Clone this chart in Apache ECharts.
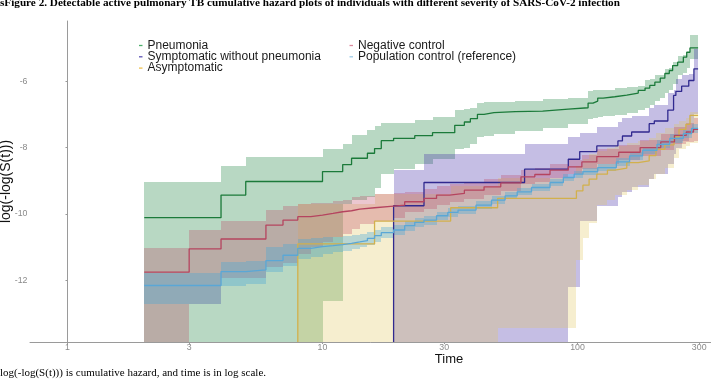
<!DOCTYPE html>
<html>
<head>
<meta charset="utf-8">
<script src="https://cdn.jsdelivr.net/npm/echarts@6/dist/echarts.min.js"></script>
<style>
html, body { margin: 0; padding: 0; background: #fff; }
#chart { width: 711px; height: 380px; }
</style>
</head>
<body>
<div id="chart"></div>
<script>
// tick labels
const timeTicks = [1, 3, 10, 30, 100, 300];
const hazardTicks = [-12, -10, -8, -6];

// Pneumonia (time, estimate, lower, upper; null lower = -Inf)
const pneumoniaTime = [2, 4, 5, 10, 12, 13, 15, 16, 17, 19, 23, 27, 33, 36, 38, 40.5, 43, 47, 57, 73, 92, 110, 115, 120, 126, 140, 156, 173, 184, 192, 201, 211, 220, 229, 236, 247, 260, 268, 276, 297];
const pneumoniaEst = [-10.11, -9.43, -9.02, -8.72, -8.51, -8.32, -8.17, -8.03, -7.79, -7.72, -7.64, -7.55, -7.33, -7.23, -7.13, -7.0, -6.95, -6.92, -6.9, -6.84, -6.8, -6.66, -6.6, -6.51, -6.47, -6.42, -6.36, -6.28, -6.21, -6.13, -6.03, -5.91, -5.77, -5.68, -5.53, -5.43, -5.28, -5.13, -5.0, -5.0];
const pneumoniaLo = [null, null, null, -12.63, -9.7, -9.58, -9.5, -9.23, -8.78, -8.63, -8.48, -8.33, -8.03, -8.0, -7.9, -7.68, -7.65, -7.6, -7.5, -7.4, -7.28, -7.15, -7.1, -7.08, -7.05, -7.03, -6.95, -6.88, -6.8, -6.73, -6.6, -6.5, -6.35, -6.28, -6.1, -5.83, -5.75, -5.6, -5.32, -5.32];
const pneumoniaHi = [-9.05, -8.56, -8.27, -8.05, -7.88, -7.61, -7.48, -7.35, -7.25, -7.25, -7.18, -7.08, -6.88, -6.85, -6.82, -6.65, -6.63, -6.62, -6.6, -6.53, -6.5, -6.3, -6.28, -6.28, -6.27, -6.2, -6.18, -6.15, -5.98, -5.95, -5.83, -5.8, -5.63, -5.6, -5.43, -5.23, -5.2, -5.13, -4.62, -4.62];

// Symptomatic without pneumonia
const symptomTime = [19, 25, 62, 92, 102, 119, 144, 150, 163, 191, 200, 226, 238, 243, 256, 273, 286, 297];
const symptomEst = [-9.75, -9.05, -8.65, -8.35, -8.12, -7.95, -7.8, -7.65, -7.53, -7.28, -7.2, -6.87, -6.43, -6.31, -6.15, -5.98, -5.63, -5.63];
const symptomLo = [null, null, null, -12.2, -10.2, -9.75, -9.5, -9.35, -9.2, -8.95, -8.8, -8.5, -8.2, -8.0, -7.8, -7.5, -7.0, -7.0];
const symptomHi = [-8.66, -8.18, -7.88, -7.68, -7.55, -7.38, -7.23, -7.1, -7.05, -6.8, -6.73, -6.35, -6.28, -5.93, -5.8, -5.78, -5.02, -5.02];

// Asymptomatic
const asymTime = [8, 16, 31.8, 48.6, 99, 105, 111, 119, 131, 140, 156, 173, 191, 203, 220, 239, 250, 266, 276, 297];
const asymEst = [-10.9, -10.21, -9.81, -9.53, -9.3, -9.13, -8.95, -8.8, -8.68, -8.62, -8.45, -8.4, -8.24, -8.05, -7.92, -7.68, -7.45, -7.3, -7.03, -7.03];
const asymLo = [null, null, null, -13.43, -11.38, -10.73, -10.28, -9.73, -9.58, -9.43, -9.28, -9.13, -8.93, -8.78, -8.6, -8.3, -8.05, -7.95, -7.85, -7.85];
const asymHi = [-9.7, -9.4, -9.15, -8.9, -8.55, -8.35, -8.2, -8.1, -8.0, -7.95, -7.85, -7.8, -7.72, -7.55, -7.42, -7.3, -7.2, -7.1, -6.93, -6.93];

// Negative control
const negTime = [2, 3, 4, 6, 7, 8, 9, 10, 11, 12, 13, 14, 16, 19, 21, 25, 28, 31.5, 36, 43, 50, 60, 68, 78, 92, 104, 119, 145, 176, 212, 240, 267, 285, 297];
const negEst = [-11.75, -11.05, -10.75, -10.33, -10.18, -10.08, -10.03, -9.98, -9.93, -9.9, -9.85, -9.81, -9.76, -9.73, -9.63, -9.53, -9.43, -9.38, -9.28, -9.18, -9.06, -8.88, -8.81, -8.68, -8.58, -8.43, -8.27, -8.14, -8.0, -7.83, -7.63, -7.53, -7.45, -7.45];
const negLo = [null, -12.71, -11.93, -11.58, -11.46, -11.2, -11.0, -10.85, -10.7, -10.6, -10.45, -10.3, -10.2, -10.12, -9.95, -9.85, -9.72, -9.65, -9.55, -9.42, -9.3, -9.1, -9.02, -8.9, -8.8, -8.65, -8.5, -8.38, -8.25, -8.07, -7.9, -7.82, -7.8, -7.8];
const negHi = [-11.01, -10.47, -10.22, -9.88, -9.75, -9.7, -9.68, -9.66, -9.62, -9.58, -9.5, -9.45, -9.4, -9.38, -9.35, -9.25, -9.15, -9.1, -9.02, -8.93, -8.83, -8.68, -8.6, -8.48, -8.38, -8.22, -8.05, -7.92, -7.78, -7.6, -7.38, -7.25, -7.1, -7.1];

// Population control (reference)
const popTime = [2, 4, 5, 6, 7, 8, 9, 10, 11, 12, 13, 14, 15, 16, 17, 19, 21, 23, 25, 28, 31, 34, 40, 46, 52, 58, 66, 78, 88, 97, 105, 120, 142, 160, 180, 205, 230, 260, 280, 297];
const popEst = [-12.15, -11.73, -11.68, -11.4, -11.24, -11.03, -10.98, -10.95, -10.92, -10.88, -10.84, -10.8, -10.73, -10.65, -10.56, -10.48, -10.35, -10.25, -10.18, -10.05, -9.95, -9.88, -9.73, -9.58, -9.45, -9.33, -9.2, -9.05, -8.9, -8.8, -8.72, -8.6, -8.43, -8.25, -8.08, -7.9, -7.72, -7.58, -7.42, -7.42];
const popLo = [-12.71, -12.15, -12.1, -11.75, -11.56, -11.35, -11.28, -11.2, -11.15, -11.1, -11.05, -11.0, -10.92, -10.83, -10.73, -10.64, -10.5, -10.39, -10.32, -10.18, -10.08, -10.0, -9.85, -9.7, -9.56, -9.44, -9.31, -9.16, -9.01, -8.91, -8.83, -8.71, -8.55, -8.37, -8.2, -8.02, -7.85, -7.7, -7.56, -7.56];
const popHi = [-11.76, -11.43, -11.4, -11.0, -10.9, -10.75, -10.72, -10.7, -10.68, -10.66, -10.62, -10.6, -10.55, -10.48, -10.4, -10.33, -10.21, -10.12, -10.05, -9.93, -9.83, -9.76, -9.62, -9.47, -9.35, -9.23, -9.1, -8.95, -8.8, -8.7, -8.62, -8.5, -8.32, -8.14, -7.97, -7.78, -7.6, -7.46, -7.3, -7.3];

const Y_MIN = -13.85, Y_MAX = -4.19;
const lx = t => Math.log10(t);

const groups = [
  { name: 'Pneumonia', time: pneumoniaTime, est: pneumoniaEst, lo: pneumoniaLo, hi: pneumoniaHi, color: '#1b7a3a', key: '#4caf6a', fill: 'rgba(20,125,55,0.3)', fromBottom: false },
  { name: 'Symptomatic without pneumonia', time: symptomTime, est: symptomEst, lo: symptomLo, hi: symptomHi, color: '#30298f', key: '#5b52b5', fill: 'rgba(62,40,165,0.3)', fromBottom: true },
  { name: 'Asymptomatic', time: asymTime, est: asymEst, lo: asymLo, hi: asymHi, color: '#d2b04c', key: '#efc24f', fill: 'rgba(225,198,95,0.3)', fromBottom: true },
  { name: 'Negative control', time: negTime, est: negEst, lo: negLo, hi: negHi, color: '#b5445f', key: '#dc8a9e', fill: 'rgba(190,70,100,0.3)', fromBottom: false },
  { name: 'Population control (reference)', time: popTime, est: popEst, lo: popLo, hi: popHi, color: '#5aa7d6', key: '#9ccbe8', fill: 'rgba(70,165,215,0.35)', fromBottom: false }
];

function bandSeries(g) {
  const rows = [];
  for (let i = 0; i < g.time.length - 1; i++) {
    rows.push([lx(g.time[i]), lx(g.time[i + 1]), g.lo[i] == null ? Y_MIN : g.lo[i], g.hi[i]]);
  }
  return {
    type: 'custom',
    name: g.name + ' CI',
    silent: true,
    z: 1,
    encode: { x: [0, 1], y: [2, 3] },
    data: rows,
    renderItem: (params, api) => {
      const a = api.coord([api.value(0), api.value(3)]);
      const b = api.coord([api.value(1), api.value(2)]);
      const x0 = Math.round(a[0]), x1 = Math.round(b[0]);
      const y0 = Math.round(a[1]), y1 = Math.round(b[1]);
      return { type: 'rect', shape: { x: x0, y: y0, width: x1 - x0, height: y1 - y0 }, style: { fill: g.fill } };
    }
  };
}

function lineSeries(g) {
  const pts = g.time.map((t, i) => [lx(t), g.est[i]]);
  if (g.fromBottom) pts.unshift([lx(g.time[0]), Y_MIN]);
  return {
    type: 'line',
    name: g.name,
    data: pts,
    step: 'end',
    symbol: 'none',
    z: 3,
    silent: true,
    lineStyle: { color: g.color, width: 1.3 },
    itemStyle: { color: g.key }
  };
}

const legendBase = {
  orient: 'vertical',
  top: 34.5,
  icon: 'rect',
  itemWidth: 3.5,
  itemHeight: 1.3,
  itemGap: -0.7,
  selectedMode: false,
  textStyle: { fontFamily: 'Liberation Sans', fontSize: 12, lineHeight: 11.3, color: '#1a1a1a', padding: 0 }
};

const chart = echarts.init(document.getElementById('chart'), null, { renderer: 'canvas' });
chart.setOption({
  animation: false,
  backgroundColor: '#fff',
  grid: { left: 30, top: 21, bottom: 38, right: -157, outerBoundsMode: 'none' },
  legend: [
    Object.assign({}, legendBase, { left: 134, data: groups.slice(0, 3).map(g => g.name) }),
    Object.assign({}, legendBase, { left: 344.5, data: groups.slice(3).map(g => g.name) })
  ],
  xAxis: {
    type: 'value',
    min: -0.147,
    max: 3.139,
    name: 'Time',
    nameLocation: 'middle',
    nameGap: 11,
    nameMoveOverlap: false,
    nameTextStyle: { fontFamily: 'Liberation Sans', fontSize: 13, color: '#111' },
    axisLine: { lineStyle: { color: '#9a9a9a', width: 1 } },
    axisTick: { show: true, length: 2, lineStyle: { color: '#9a9a9a' }, customValues: timeTicks.map(lx) },
    axisLabel: {
      customValues: timeTicks.map(lx),
      formatter: v => String(Math.round(Math.pow(10, v))),
      fontFamily: 'Liberation Sans', fontSize: 8.8, color: '#8a8a8a', margin: 1
    },
    splitLine: { show: false }
  },
  yAxis: {
    type: 'value',
    min: Y_MIN,
    max: Y_MAX,
    axisLine: { show: true, lineStyle: { color: '#9a9a9a', width: 1 } },
    axisTick: { show: true, length: 2, lineStyle: { color: '#9a9a9a' }, customValues: hazardTicks },
    axisLabel: {
      customValues: hazardTicks,
      fontFamily: 'Liberation Sans', fontSize: 8.8, color: '#8a8a8a', margin: 2.5
    },
    splitLine: { show: false }
  },
  graphic: [
    {
      type: 'text', x: 0, y: 3.6, silent: true,
      style: {
        text: 'sFigure 2. Detectable active pulmonary TB cumulative hazard plots of individuals with different severity of SARS-CoV-2 infection',
        font: 'bold 11.2px "Liberation Serif"', fill: '#000', verticalAlign: 'middle'
      }
    },
    {
      type: 'text', x: 6.5, y: 181.5, rotation: Math.PI / 2, silent: true,
      style: {
        text: 'log(-log(S(t)))',
        font: '14px "Liberation Sans"', fill: '#111', align: 'center', verticalAlign: 'middle'
      }
    },
    {
      type: 'text', x: 0, y: 373.5, silent: true,
      style: {
        text: 'log(-log(S(t))) is cumulative hazard, and time is in log scale.',
        font: '11px "Liberation Serif"', fill: '#000', verticalAlign: 'middle'
      }
    }
  ],
  series: groups.map(bandSeries).concat(groups.map(lineSeries))
});
</script>
</body>
</html>
